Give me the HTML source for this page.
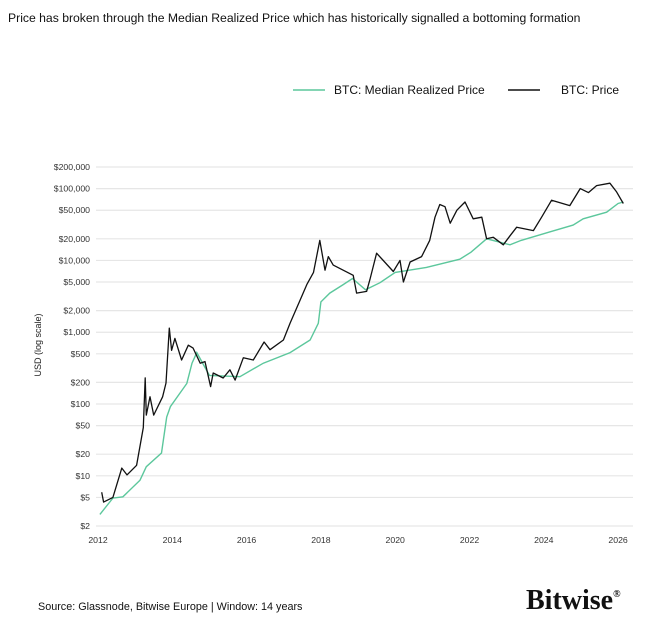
<!DOCTYPE html>
<html><head><meta charset="utf-8"><style>
body{margin:0;background:#fff;width:671px;height:631px;overflow:hidden;font-family:"Liberation Sans",sans-serif}
svg text{font-family:"Liberation Sans",sans-serif}
</style></head><body>
<svg id="chart" width="671" height="631" xmlns="http://www.w3.org/2000/svg">
<text x="8" y="22" font-size="12.2" fill="#111">Price has broken through the Median Realized Price which has historically signalled a bottoming formation</text>
<g>
<line x1="293" y1="90" x2="325" y2="90" stroke="#5cc79c" stroke-width="1.5"/>
<text x="334" y="94" font-size="12" fill="#111">BTC: Median Realized Price</text>
<line x1="508" y1="90" x2="540" y2="90" stroke="#111" stroke-width="1.5"/>
<text x="561" y="94" font-size="12" fill="#111">BTC: Price</text>
</g>
<text transform="translate(41,345) rotate(-90)" text-anchor="middle" font-size="9" fill="#222">USD (log scale)</text>
<g id="grid"></g><g id="yt"></g><g id="xt"></g><g id="series"></g>
<text x="38" y="610" font-size="10.8" fill="#111">Source: Glassnode, Bitwise Europe | Window: 14 years</text>
<text x="526" y="609" font-size="28" font-weight="bold" fill="#111" style="font-family:'Liberation Serif',serif">Bitwise<tspan font-size="10" dy="-12">®</tspan></text>
</svg>
<script>
const yTicks=[200000,100000,50000,20000,10000,5000,2000,1000,500,200,100,50,20,10,5,2];
const yLabels=["$200,000","$100,000","$50,000","$20,000","$10,000","$5,000","$2,000","$1,000","$500","$200","$100","$50","$20","$10","$5","$2"];
const xTicks=[2012,2014,2016,2018,2020,2022,2024,2026];
const priceYears=[2012.1,2012.15,2012.4,2012.64,2012.78,2013.04,2013.22,2013.27,2013.3,2013.4,2013.5,2013.74,2013.83,2013.92,2013.98,2014.07,2014.25,2014.43,2014.56,2014.75,2014.88,2015.03,2015.1,2015.37,2015.55,2015.69,2015.91,2016.18,2016.47,2016.63,2016.99,2017.17,2017.44,2017.62,2017.8,2017.97,2018.11,2018.2,2018.33,2018.6,2018.87,2018.96,2019.23,2019.32,2019.5,2019.95,2020.13,2020.22,2020.4,2020.71,2020.93,2021.07,2021.2,2021.34,2021.48,2021.66,2021.88,2022.1,2022.33,2022.46,2022.64,2022.91,2023.09,2023.27,2023.72,2023.94,2024.21,2024.7,2024.98,2025.2,2025.42,2025.78,2025.96,2026.14];
const priceValues=[5.9,4.3,5.0,12.8,10.3,14,47,231,70,126,70,126,196,1140,560,820,410,660,600,370,390,175,270,230,300,215,440,410,730,570,780,1340,2800,4600,6800,19000,7300,11300,8600,7300,6200,3500,3700,5400,12600,7000,10000,5000,9500,11300,19000,40000,60000,56000,33000,50000,65000,38000,40000,20000,21000,16500,22000,29000,26000,40000,69000,58000,100000,88000,110000,119000,90000,62000];
const medianYears=[2012.05,2012.4,2012.67,2013.13,2013.3,2013.71,2013.85,2013.95,2014.39,2014.53,2014.66,2015.0,2015.82,2016.45,2017.17,2017.71,2017.93,2018.0,2018.24,2018.6,2018.85,2019.2,2019.59,2020.0,2020.84,2021.74,2022.04,2022.46,2023.09,2023.39,2024.17,2024.79,2025.06,2025.69,2026.0,2026.14];
const medianValues=[2.9,4.9,5.1,8.7,13.4,20.8,66,92,193,370,520,250,240,370,520,780,1330,2640,3500,4600,5600,3900,4900,6800,8000,10400,13000,20000,16500,19000,25000,31000,38000,47000,62000,65000];
const NS="http://www.w3.org/2000/svg";
const X=t=>98+37.15*(t-2012);
const Y=v=>526-71.8*Math.log10(v/2);
function mk(tag,attrs,parent){const e=document.createElementNS(NS,tag);for(const k in attrs)e.setAttribute(k,attrs[k]);document.getElementById(parent).appendChild(e);return e;}
yTicks.forEach((v,i)=>{
 const g=mk('line',{x1:96,x2:633,y1:Y(v),y2:Y(v),stroke:'#e6e6e6','stroke-width':1.2},'grid');
 
 
 const t=mk('text',{x:90,y:Y(v)+3,'text-anchor':'end','font-size':8.7,fill:'#333'},'yt');
 t.textContent=yLabels[i];
 
 
});
xTicks.forEach(yr=>{
 const t=mk('text',{x:X(yr),y:543,'text-anchor':'middle','font-size':8.7,fill:'#333'},'xt');
 t.textContent=yr;
 
 
});
function path(xs,vs){return xs.map((t,i)=>(i?'L':'M')+X(t).toFixed(1)+','+Y(vs[i]).toFixed(1)).join('');}
const m=mk('path',{d:path(medianYears,medianValues),fill:'none',stroke:'#5cc79c','stroke-width':1.4},'series');


const p=mk('path',{d:path(priceYears,priceValues),fill:'none',stroke:'#111','stroke-width':1.3,'stroke-linejoin':'round'},'series');


</script>
</body></html>
